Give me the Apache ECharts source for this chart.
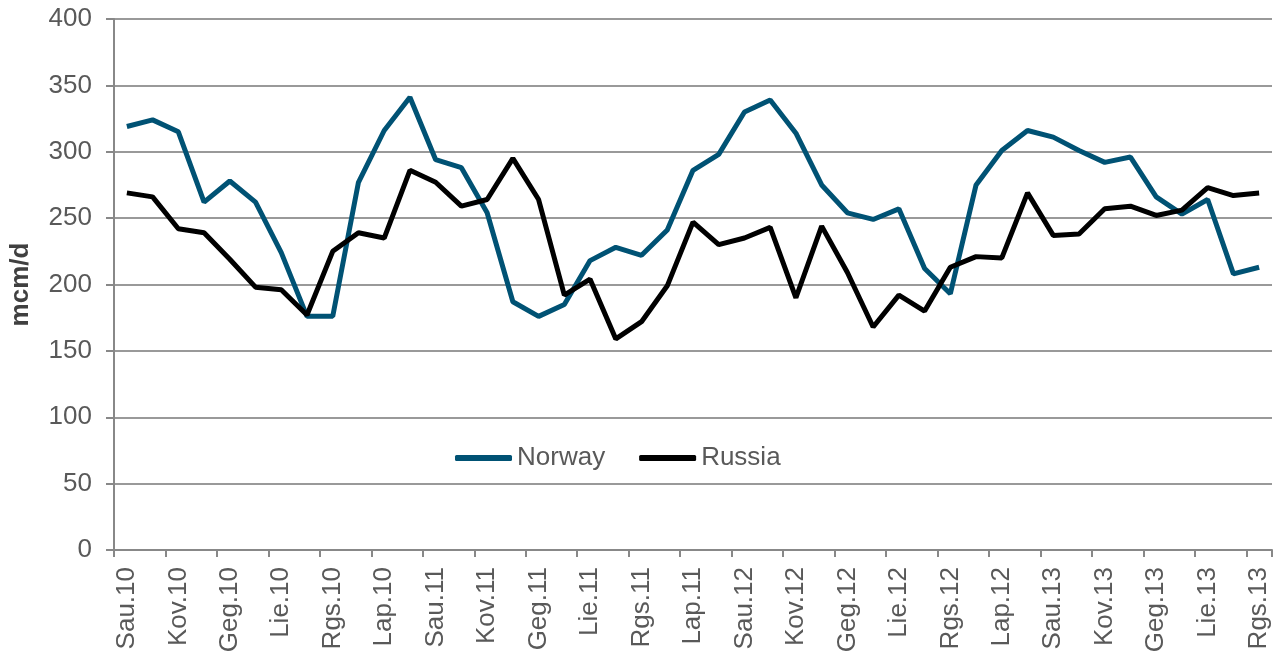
<!DOCTYPE html>
<html>
<head>
<meta charset="utf-8">
<script src="https://cdn.jsdelivr.net/npm/echarts@6/dist/echarts.min.js"></script>
<style>
html,body{margin:0;padding:0;background:#fff;}
#chart{width:1276px;height:653px;}
</style>
</head>
<body>
<div id="chart"></div>
<script>
const monthAbbr = ['Sau','Vas','Kov','Bal','Geg','Bir','Lie','Rgp','Rgs','Spa','Lap','Grd'];
const years = ['10','11','12','13'];
const categories = [];
for (const y of years) for (const m of monthAbbr) categories.push(m + '.' + y);
categories.length = 45; // Jan 2010 .. Sep 2013

const norway = [319,324,315,262,278,262,224,176,176,277,316,341,
  294,288,254,187,176,185,218,228,222,241,286,298,330,339,314,275,254,249,257,212,193,
  275,301,316,311,301,292,296,266,253,264,208,213];
const russia = [269,266,242,239,219,198,196,177,225,239,235,286,
  277,259,264,295,264,192,204,159,172,199,247,230,235,243,190,244,209,168,192,180,213,
  221,220,269,237,238,257,259,252,256,273,267,269];

const font = 'Liberation Sans, Arial, sans-serif';
const textColor = '#595959';
const chart = echarts.init(document.getElementById('chart'));
chart.setOption({
  animation: false,
  backgroundColor: '#fff',
  grid: {left: 114, right: 4, top: 19, bottom: 103, containLabel: false, outerBoundsMode: 'none'},
  legend: {
    left: 455, top: 445, padding: 0,
    icon: 'roundRect',
    itemWidth: 57, itemHeight: 6, itemGap: 34,
    textStyle: {fontFamily: font, fontSize: 26, color: textColor},
    data: [{name: 'Norway'}, {name: 'Russia'}]
  },
  xAxis: {
    type: 'category',
    data: categories,
    boundaryGap: true,
    axisLine: {lineStyle: {color: '#888888', width: 2}},
    axisTick: {show: true, interval: 1, length: 7, lineStyle: {color: '#888888', width: 2}},
    axisLabel: {interval: 1, rotate: 90, margin: 17, fontFamily: font, fontSize: 26, color: textColor}
  },
  yAxis: {
    type: 'value',
    min: 0, max: 400, interval: 50,
    name: 'mcm/d',
    nameLocation: 'middle',
    nameGap: 80,
    nameTextStyle: {fontFamily: font, fontSize: 26, fontWeight: 'bold', color: '#404040'},
    axisLine: {show: true, lineStyle: {color: '#888888', width: 2}},
    axisTick: {show: true, length: 8, lineStyle: {color: '#888888', width: 2}},
    axisLabel: {margin: 22, fontFamily: font, fontSize: 26, color: textColor},
    splitLine: {lineStyle: {color: '#999999', width: 2}}
  },
  series: [
    {name: 'Norway', type: 'line', data: norway, symbol: 'none',
     lineStyle: {color: '#005274', width: 5}, itemStyle: {color: '#005274'}},
    {name: 'Russia', type: 'line', data: russia, symbol: 'none',
     lineStyle: {color: '#000000', width: 5}, itemStyle: {color: '#000000'}}
  ]
});
</script>
</body>
</html>
